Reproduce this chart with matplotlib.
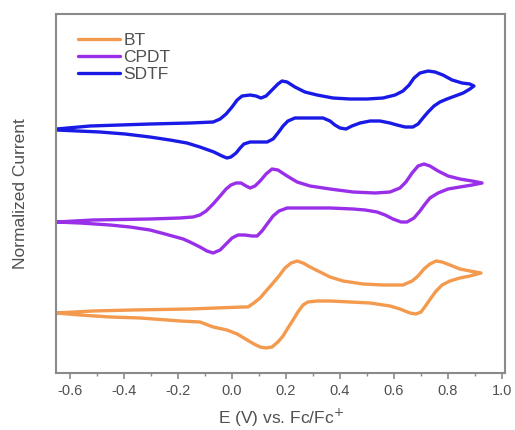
import matplotlib

matplotlib.use("Agg")
import matplotlib.pyplot as plt
from matplotlib.ticker import MultipleLocator

# potential (V vs Fc/Fc+) and normalized current (offset, arbitrary units)
# each trace: anodic sweep out to the vertex, then cathodic sweep back
BT_E = [-0.65, -0.515, -0.367, -0.156, 0.041, 0.059, 0.081, 0.104, 0.126, 0.152,
        0.174, 0.196, 0.219, 0.241, 0.263, 0.289, 0.326, 0.363, 0.411, 0.485,
        0.559, 0.633, 0.667, 0.689, 0.711, 0.733, 0.756, 0.778, 0.807, 0.844,
        0.881, 0.922,
        0.881, 0.844, 0.807, 0.778, 0.756, 0.737, 0.719, 0.700, 0.681, 0.659,
        0.622, 0.585, 0.511, 0.437, 0.363, 0.315, 0.281, 0.263, 0.244, 0.226,
        0.207, 0.189, 0.170, 0.148, 0.126, 0.104, 0.081, 0.056, 0.019, -0.019,
        -0.070, -0.119, -0.193, -0.241, -0.341, -0.452, -0.563, -0.65]
BT_I = [60, 62, 63, 64, 66, 66, 70, 75, 82, 90,
        97, 105, 110, 112, 110, 106, 101, 96, 92, 89,
        88, 88, 92, 97, 104, 109, 112, 111, 108, 104,
        102, 100,
        97, 95, 92, 88, 82, 75, 68, 61, 59, 60,
        64, 67, 70, 71, 72, 72, 71, 68, 61, 53,
        45, 37, 31, 26, 25, 26, 29, 33, 39, 43,
        46, 51, 52, 53, 55, 56, 58, 60]

CPDT_E = [-0.65, -0.515, -0.304, -0.193, -0.144, -0.119, -0.096, -0.070, -0.044,
          -0.022, -0.004, 0.015, 0.033, 0.052, 0.067, 0.085, 0.104, 0.126, 0.148,
          0.170, 0.204, 0.241, 0.289, 0.363, 0.448, 0.530, 0.585, 0.622, 0.644,
          0.667, 0.689, 0.711, 0.733, 0.763, 0.800, 0.844, 0.889, 0.926,
          0.889, 0.844, 0.800, 0.763, 0.733, 0.715, 0.696, 0.674, 0.648, 0.626,
          0.596, 0.567, 0.537, 0.493, 0.448, 0.363, 0.252, 0.204, 0.174, 0.152,
          0.130, 0.111, 0.093, 0.074, 0.048, 0.022, 0.000, -0.022, -0.044, -0.070,
          -0.093, -0.119, -0.156, -0.181, -0.248, -0.304, -0.378, -0.452, -0.563,
          -0.65]
CPDT_I = [151, 153, 154, 155, 156, 158, 162, 169, 177,
          184, 188, 190, 190, 187, 185, 187, 192, 199, 204,
          203, 197, 191, 187, 184, 181, 180, 181, 185, 191,
          200, 207, 209, 207, 202, 197, 194, 192, 190,
          188, 186, 184, 180, 175, 169, 162, 155, 151, 151,
          154, 158, 161, 163, 164, 165, 165, 165, 162, 157,
          149, 142, 137, 137, 138, 138, 135, 129, 123, 120,
          122, 126, 131, 134, 139, 143, 146, 148, 150,
          151]

SDTF_E = [-0.65, -0.526, -0.304, -0.156, -0.070, -0.044, -0.022, 0.000, 0.019,
          0.037, 0.067, 0.089, 0.107, 0.126, 0.148, 0.170, 0.185, 0.204, 0.233,
          0.270, 0.315, 0.374, 0.437, 0.500, 0.559, 0.604, 0.633, 0.656, 0.674,
          0.696, 0.726, 0.752, 0.781, 0.815, 0.852, 0.881, 0.896,
          0.881, 0.856, 0.826, 0.796, 0.770, 0.748, 0.726, 0.707, 0.689, 0.670,
          0.641, 0.611, 0.585, 0.548, 0.511, 0.474, 0.444, 0.422, 0.400, 0.381,
          0.363, 0.337, 0.289, 0.233, 0.207, 0.189, 0.170, 0.152, 0.130, 0.096,
          0.067, 0.044, 0.030, 0.015, -0.004, -0.019, -0.037, -0.067, -0.119,
          -0.167, -0.230, -0.304, -0.396, -0.489, -0.65]
SDTF_I = [244, 247, 249, 250, 251, 254, 259, 266, 273,
          277, 278, 277, 275, 277, 283, 289, 292, 291, 286,
          281, 278, 275, 274, 274, 275, 278, 282, 288, 295,
          300, 302, 301, 298, 293, 290, 289, 287,
          284, 280, 277, 274, 271, 267, 261, 255, 249, 246,
          246, 248, 250, 252, 252, 250, 247, 244, 245, 248,
          252, 255, 255, 255, 252, 247, 240, 234, 231, 231,
          231, 229, 225, 220, 216, 215, 217, 221, 226,
          230, 233, 236, 239, 241, 243]

SERIES = [
    ("BT", BT_E, BT_I, "#F39A4E"),
    ("CPDT", CPDT_E, CPDT_I, "#9A2FEA"),
    ("SDTF", SDTF_E, SDTF_I, "#1A1AE6"),
]

TEXT_GRAY = "#505050"
AXIS_GRAY = "#8A8A8A"

plt.rcParams.update(
    {
        "font.family": ["Liberation Sans", "DejaVu Sans"],
        "axes.unicode_minus": False,
    }
)

fig = plt.figure(figsize=(5.15, 4.3), dpi=100)
ax = fig.add_axes([0.1087, 0.1326, 0.8719, 0.8348])

for name, e, i, color in SERIES:
    ax.plot(e, i, color=color, linewidth=2.4, label=name,
            solid_joinstyle="round", solid_capstyle="round")

ax.set_xlim(-0.652, 1.011)
ax.set_ylim(0, 359)
ax.xaxis.set_minor_locator(MultipleLocator(0.1))
ax.set_xticks([-0.6, -0.4, -0.2, 0.0, 0.2, 0.4, 0.6, 0.8, 1.0])
ax.set_xticklabels(["-0.6", "-0.4", "-0.2", "0.0", "0.2", "0.4", "0.6", "0.8", "1.0"])
ax.set_yticks([])
ax.tick_params(axis="x", which="major", direction="out", length=4, width=1.2,
               color=AXIS_GRAY, labelsize=10.5, labelcolor=TEXT_GRAY, pad=4)
ax.tick_params(axis="x", which="minor", direction="out", length=2.5, width=1.0,
               color=AXIS_GRAY)
for spine in ax.spines.values():
    spine.set_color(AXIS_GRAY)
    spine.set_linewidth(1.5)

ax.set_xlabel(r"E (V) vs. Fc/Fc$^{+}$", fontsize=12.5, color=TEXT_GRAY, labelpad=6)
ax.set_ylabel("Normalized Current", fontsize=12.5, color=TEXT_GRAY, labelpad=20)

leg = ax.legend(loc="upper left", frameon=False, fontsize=12.5, handlelength=2.4,
                handletextpad=0.2, labelspacing=0.1, borderaxespad=0.5,
                bbox_to_anchor=(0.015, 0.99))
for text in leg.get_texts():
    text.set_color(TEXT_GRAY)

fig.savefig("out.png", dpi=100)
